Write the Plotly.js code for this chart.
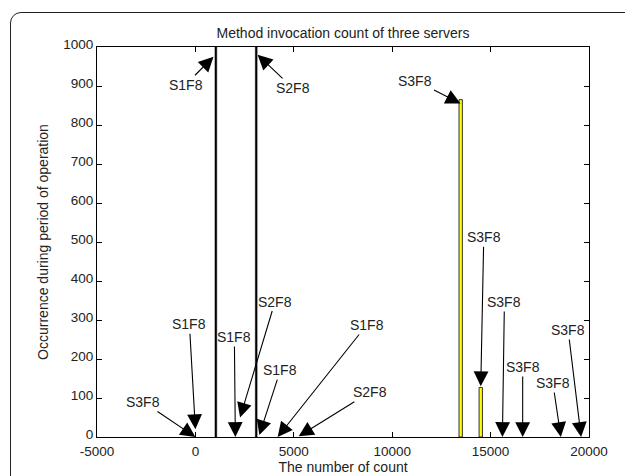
<!DOCTYPE html>
<html>
<head>
<meta charset="utf-8">
<script src="https://cdn.plot.ly/plotly-3.0.1.min.js"></script>
<style>
  html, body { margin:0; padding:0; background:#fff; }
  #wrap { position:relative; width:625px; height:476px; overflow:hidden; }
  #chart { position:absolute; left:0; top:0; width:625px; height:476px; }
  #frame { position:absolute; left:10px; top:12px; width:640px; height:500px;
           border:1.5px solid #222; border-radius:11px; pointer-events:none; }
</style>
</head>
<body>
<div id="wrap">
  <div id="chart"></div>
  <div id="frame"></div>
</div>
<script>
// ---- data ----
const blackBarX = [1040, 3090];
const blackBarY = [1000, 1000];
const yellowBarX = [13480, 14500];
const yellowBarY = [865, 127];

// arrow annotations: target point (x, y) and label
const annX = [920, 3160, 13470, 14500, 15600, 16630, 18570, 19600, 0, 0, 2030, 2270, 3250, 4180, 5250];
const annY = [975, 980, 855, 130, 0, 0, 0, 0, 20, 0, 0, 50, 5, 0, 2];
const annText = ['S1F8', 'S2F8', 'S3F8', 'S3F8', 'S3F8', 'S3F8', 'S3F8', 'S3F8',
                 'S1F8', 'S3F8', 'S1F8', 'S2F8', 'S1F8', 'S1F8', 'S2F8'];

const xTicks = [-5000, 0, 5000, 10000, 15000, 20000];
const yTicks = [0, 100, 200, 300, 400, 500, 600, 700, 800, 900, 1000];

// ---- layout-only: label offsets (pixels) from arrow tip ----
const labelOffsetX = [-28, 35, -45, 3, 2, 0, -8, -13, -6, -52, -1, 35, 21, 89, 71];
const labelOffsetY = [28, 33, -23, -149, -135, -70, -54, -107, -105, -35, -100, -116, -65, -112, -44];

const FONT = 'Liberation Sans, Arial, sans-serif';
const TXT = '#222';

const traces = [
  {
    type: 'bar', x: blackBarX, y: blackBarY, width: 90,
    marker: { color: '#000', line: { color: '#000', width: 0.5 } },
    hoverinfo: 'skip', showlegend: false
  },
  {
    type: 'bar', x: yellowBarX, y: yellowBarY, width: 170,
    marker: { color: '#ffff00', line: { color: '#333', width: 1 } },
    hoverinfo: 'skip', showlegend: false
  }
];

const annotations = annX.map((x, i) => ({
  x: x, y: annY[i], xref: 'x', yref: 'y',
  text: annText[i],
  ax: labelOffsetX[i], ay: labelOffsetY[i],
  showarrow: true, arrowhead: 2, arrowsize: 2.7, arrowwidth: 1.1,
  arrowcolor: '#000', standoff: 0, startstandoff: 0,
  font: { family: FONT, size: 14, color: TXT }
}));

const axisCommon = {
  showline: true, linecolor: '#000', linewidth: 1, mirror: 'ticks',
  ticks: 'inside', ticklen: 5, tickwidth: 1, tickcolor: '#000',
  showgrid: false, zeroline: false,
  tickfont: { family: FONT, size: 13.5, color: TXT }
};

const layout = {
  width: 625, height: 476,
  margin: { l: 97, r: 36, t: 47, b: 39 },
  paper_bgcolor: 'rgba(0,0,0,0)', plot_bgcolor: '#fff',
  bargap: 0, barmode: 'overlay',
  title: {
    text: 'Method invocation count of three servers',
    font: { family: FONT, size: 14, color: TXT },
    x: 0.5, xref: 'paper', y: 1 - 33 / 476, yref: 'container', yanchor: 'middle'
  },
  xaxis: Object.assign({}, axisCommon, {
    range: [-5000, 20000], tickvals: xTicks, ticktext: xTicks.map(String),
    ticklabelstandoff: 2,
    title: { text: 'The number of count', font: { family: FONT, size: 14, color: TXT }, standoff: 2 }
  }),
  yaxis: Object.assign({}, axisCommon, {
    range: [0, 1000], tickvals: yTicks, ticktext: yTicks.map(String),
    ticklabelshift: -3,
    title: { text: 'Occurrence during period of operation', font: { family: FONT, size: 14, color: TXT }, standoff: 11 }
  }),
  annotations: annotations,
  showlegend: false
};

Plotly.newPlot('chart', traces, layout, { displayModeBar: false, staticPlot: true });
</script>
</body>
</html>
